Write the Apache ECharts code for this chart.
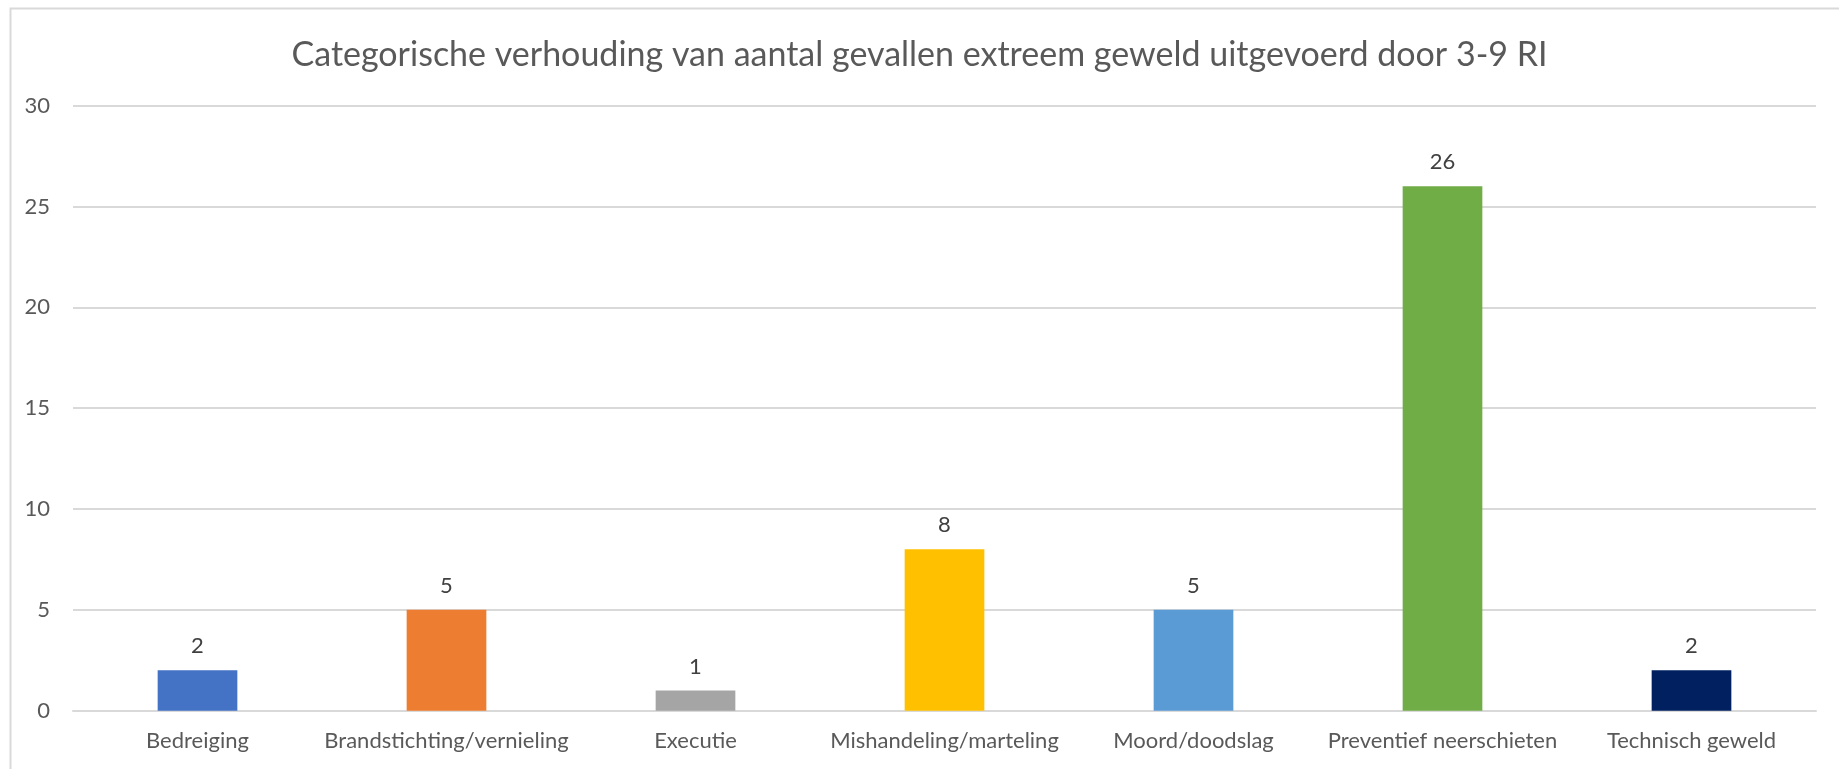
<!DOCTYPE html>
<html>
<head>
<meta charset="utf-8">
<script src="https://cdn.jsdelivr.net/npm/echarts@6/dist/echarts.min.js"></script>
<style>html,body{margin:0;padding:0;background:#fff;}#c{width:1839px;height:769px;}</style>
</head>
<body>
<div id="c"></div>
<script>
const titleText = 'Categorische verhouding van aantal gevallen extreem geweld uitgevoerd door 3-9 RI';
const categories = ['Bedreiging', 'Brandstichting/vernieling', 'Executie', 'Mishandeling/marteling', 'Moord/doodslag', 'Preventief neerschieten', 'Technisch geweld'];
const values = [2, 5, 1, 8, 5, 26, 2];
const barColors = ['#4472C4', '#ED7D31', '#A5A5A5', '#FFC000', '#5B9BD5', '#70AD47', '#002060'];

const font = 'Lato, "Open Sans", sans-serif';
const chart = echarts.init(document.getElementById('c'));
chart.setOption({
  animation: false,
  backgroundColor: '#fff',
  title: {
    text: titleText,
    left: 'center',
    top: 33,
    textStyle: { fontFamily: font, fontSize: 34, fontWeight: 'normal', color: '#595959' }
  },
  graphic: [{
    type: 'rect',
    left: 8, top: 6,
    shape: { width: 2000, height: 1000 },
    style: { fill: 'none', stroke: '#D9D9D9', lineWidth: 2 },
    silent: true
  }],
  grid: { left: 73, right: 23, top: 105.6, bottom: 58.3, containLabel: false },
  xAxis: {
    type: 'category',
    data: categories,
    axisLine: { lineStyle: { color: '#D9D9D9', width: 2 } },
    axisTick: { show: false },
    axisLabel: { fontFamily: font, fontSize: 22, color: '#595959', margin: 19, interval: 0 }
  },
  yAxis: {
    type: 'value',
    min: 0, max: 30, interval: 5,
    axisLine: { show: false },
    axisTick: { show: false },
    splitLine: { lineStyle: { color: '#D9D9D9', width: 2 } },
    axisLabel: { fontFamily: font, fontSize: 22, color: '#595959', margin: 23 }
  },
  series: [{
    type: 'bar',
    barWidth: '32%',
    data: values.map((v, i) => ({ value: v, itemStyle: { color: barColors[i] } })),
    label: {
      show: true, position: 'top', distance: 13,
      fontFamily: font, fontSize: 22, color: '#404040'
    }
  }]
});
</script>
</body>
</html>
